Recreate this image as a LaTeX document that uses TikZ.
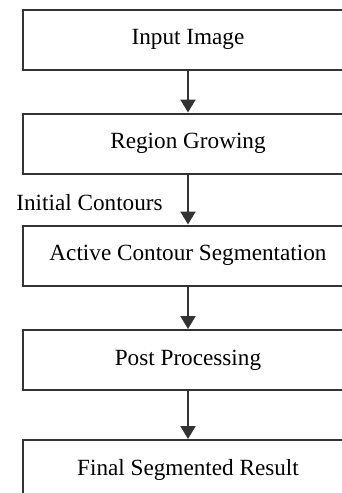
\documentclass[tikz,border=0pt]{standalone}
\usepackage{fontspec}
\setmainfont{Liberation Serif}
\usetikzlibrary{arrows.meta}
\tikzset{stagebox/.style={draw=black!80, line width=1pt, minimum width=165pt, minimum height=30pt, inner sep=0pt, font=\fontsize{11.6}{13}\selectfont}}
\newcommand{\stage}[3]{\node[stagebox] (#1) at (188,#2) {#3};}
\newcommand{\flow}[2]{\draw[line width=1pt, draw=black!80, -{Triangle[length=6.5pt,width=7.5pt]}] (#1.south) -- (#2.north);}

\begin{document}
\begin{tikzpicture}[x=0.5pt,y=-0.5pt]
        \useasboundingbox (0,0) rectangle (342,493);
        \clip (0,0) rectangle (342,493);
        % stages
        \stage{input}{39.5}{Input Image}
        \stage{region}{143.5}{Region Growing}
        \stage{active}{255.5}{Active Contour Segmentation}
        \stage{post}{360}{Post Processing}
        \stage{final}{470}{Final Segmented Result}
        % arrows
        \flow{input}{region}
        \flow{region}{active}
        \flow{active}{post}
        \flow{post}{final}
        % label for arrow 2
        \node[anchor=base west, inner sep=0pt, font=\fontsize{11.6}{13}\selectfont] (initc) at (16,210) {Initial Contours};
    \end{tikzpicture}
\end{document}
